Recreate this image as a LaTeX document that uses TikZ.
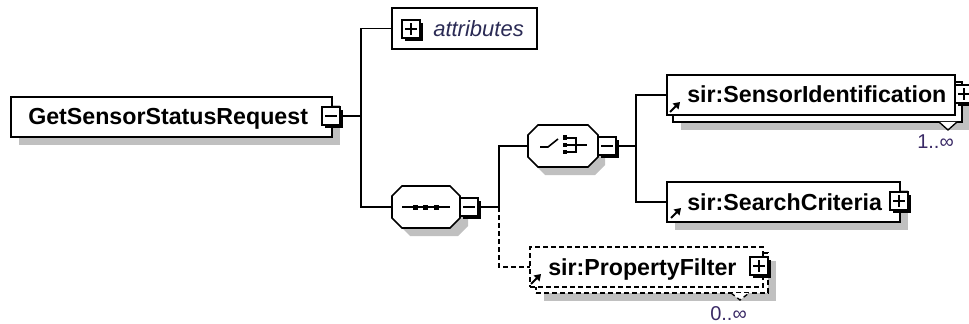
\documentclass[tikz,border=0pt]{standalone}
\usepackage{fontspec}
\setmainfont{Liberation Sans}
\usetikzlibrary{shadows}
\definecolor{shadowgray}{HTML}{C0C0C0}
\definecolor{attrtext}{HTML}{2B2B55}
\definecolor{occtext}{HTML}{3A2A66}
\begin{document}
\begin{tikzpicture}[x=0.75pt, y=-0.75pt,
  elem/.style={rectangle, draw=black, fill=white, line width=1.3pt, inner sep=0pt, outer sep=0pt},
  boxsize/.style 2 args={minimum width=#1*0.75pt, minimum height=#2*0.75pt},
  castshadow/.style={drop shadow={shadow xshift=6pt, shadow yshift=-6pt, opacity=1, fill=shadowgray}},
  optional/.style={dash pattern=on 3.5pt off 2.5pt},
  link/.style={draw=black, line width=1.25pt},
  expander/.style={rectangle, draw=black, fill=white, line width=1.1pt, minimum size=13.5pt,
    inner sep=0pt, outer sep=0pt,
    drop shadow={shadow xshift=2.2pt, shadow yshift=-2.2pt, opacity=1, fill=black}},
  minusbox/.style={expander, path picture={
    \draw[line width=1.2pt] ([xshift=-4.5pt]path picture bounding box.center) -- ([xshift=4.5pt]path picture bounding box.center);}},
  plusbox/.style={expander, path picture={
    \draw[line width=1.2pt] ([xshift=-4.5pt]path picture bounding box.center) -- ([xshift=4.5pt]path picture bounding box.center);
    \draw[line width=1.2pt] ([yshift=-4.5pt]path picture bounding box.center) -- ([yshift=4.5pt]path picture bounding box.center);}},
  elname/.style={font=\bfseries\fontsize{17.4}{20}\selectfont, inner sep=0pt, anchor=base west},
  attrname/.style={font=\itshape\fontsize{16.5}{20}\selectfont, text=attrtext, inner sep=0pt, anchor=base west},
  occurs/.style={font=\fontsize{15}{18}\selectfont, text=occtext, inner sep=0pt, anchor=base west},
  pics/refmark/.style={code={
    \draw[line width=1.5pt] (-5,5) -- (1,-1);
    \fill (5,-5) -- (-2.5,-3.5) -- (3.5,2.5) -- cycle;}}
]
\useasboundingbox (0,0) rectangle (969,324);

% ---- root element ----
\node[elem, boxsize={321}{40}, castshadow] (root) at (171.5,117) {};
\node[elname] (rootname) at (28,125) {GetSensorStatusRequest};
\node[minusbox] (rootX) at (331,116) {};

% ---- attributes ----
\node[elem, boxsize={145}{41}] (attr) at (464.5,28.5) {};
\node[plusbox] (attrX) at (411,29) {};
\node[attrname] (attrlabel) at (433,37) {attributes};

% ---- sequence compositor ----
\fill[shadowgray, shift={(8,8)}] (402,186) -- (450,186) -- (460,196) -- (460,218) -- (450,228) -- (402,228) -- (392,218) -- (392,196) -- cycle;
\draw[elem] (402,186) -- (450,186) -- (460,196) -- (460,218) -- (450,228) -- (402,228) -- (392,218) -- (392,196) -- cycle;
\draw[line width=1.2pt] (402,207) -- (450,207);
\fill (412.5,204.5) rectangle (417.5,209.5);
\fill (422.5,204.5) rectangle (427.5,209.5);
\fill (433.5,204.5) rectangle (438.5,209.5);
\coordinate (seqW) at (392,207);
\node[minusbox] (seqX) at (469,207) {};

% ---- choice compositor ----
\fill[shadowgray, shift={(7,8)}] (538,125) -- (588,125) -- (598,135) -- (598,157) -- (588,167) -- (538,167) -- (528,157) -- (528,135) -- cycle;
\draw[elem] (538,125) -- (588,125) -- (598,135) -- (598,157) -- (588,167) -- (538,167) -- (528,157) -- (528,135) -- cycle;
\draw[line width=1.2pt] (540,147) -- (548,147) -- (558,139);
\fill (562.5,135.5) rectangle (567,140);
\fill (562.5,142.5) rectangle (567,147);
\fill (562.5,149.5) rectangle (567,154);
\draw[line width=1.2pt] (567,138) -- (576,138) -- (576,152) -- (567,152);
\draw[line width=1.2pt] (567,145) -- (587,145);
\coordinate (chW) at (528,146);
\node[minusbox] (chX) at (607,146) {};

% ---- sir:SensorIdentification (1..unbounded) ----
\node[elem, boxsize={289}{40}, castshadow] (sidback) at (817.5,102) {};
\node[elem, boxsize={288}{40}] (sid) at (811,95) {};
\node[elname] (sidname) at (687,103) {sir:SensorIdentification};
\node[plusbox] (sidX) at (964,94) {};
\pic at (675,107) {refmark};
\filldraw[fill=white, line width=1pt] (939,122) -- (948,130) -- (957,122);
\node[occurs] (sidocc) at (917,148) {1..∞};

% ---- sir:SearchCriteria ----
\node[elem, boxsize={233}{40}, castshadow] (sc) at (783.5,202) {};
\node[elname] (scname) at (687,210) {sir:SearchCriteria};
\node[plusbox] (scX) at (899,201) {};
\pic at (676,213) {refmark};

% ---- sir:PropertyFilter (0..unbounded, optional) ----
\node[elem, optional, boxsize={232}{40}, castshadow] (pfback) at (652,273) {};
\node[elem, optional, boxsize={233}{40}] (pf) at (646.5,267) {};
\node[elname] (pfname) at (548,275) {sir:PropertyFilter};
\node[plusbox] (pfX) at (759,266) {};
\pic at (536,279) {refmark};
\filldraw[fill=white, line width=1pt, optional] (731,293) -- (740,300) -- (749,293);
\node[occurs] (pfocc) at (710,320) {0..∞};

% ---- connectors ----
\coordinate (j1) at (361,116);
\coordinate (j2) at (499,207);
\coordinate (j3) at (636,146);
\draw[link] (rootX.east) -- (j1);
\draw[link] (j1) |- (attr.west);
\draw[link] (j1) |- (seqW);
\draw[link] (seqX.east) -- (j2);
\draw[link] (j2) |- (chW);
\draw[link, optional] (j2) |- (pf.west);
\draw[link] (chX.east) -- (j3);
\draw[link] (j3) |- (sid.west);
\draw[link] (j3) |- (sc.west);
\end{tikzpicture}
\end{document}
